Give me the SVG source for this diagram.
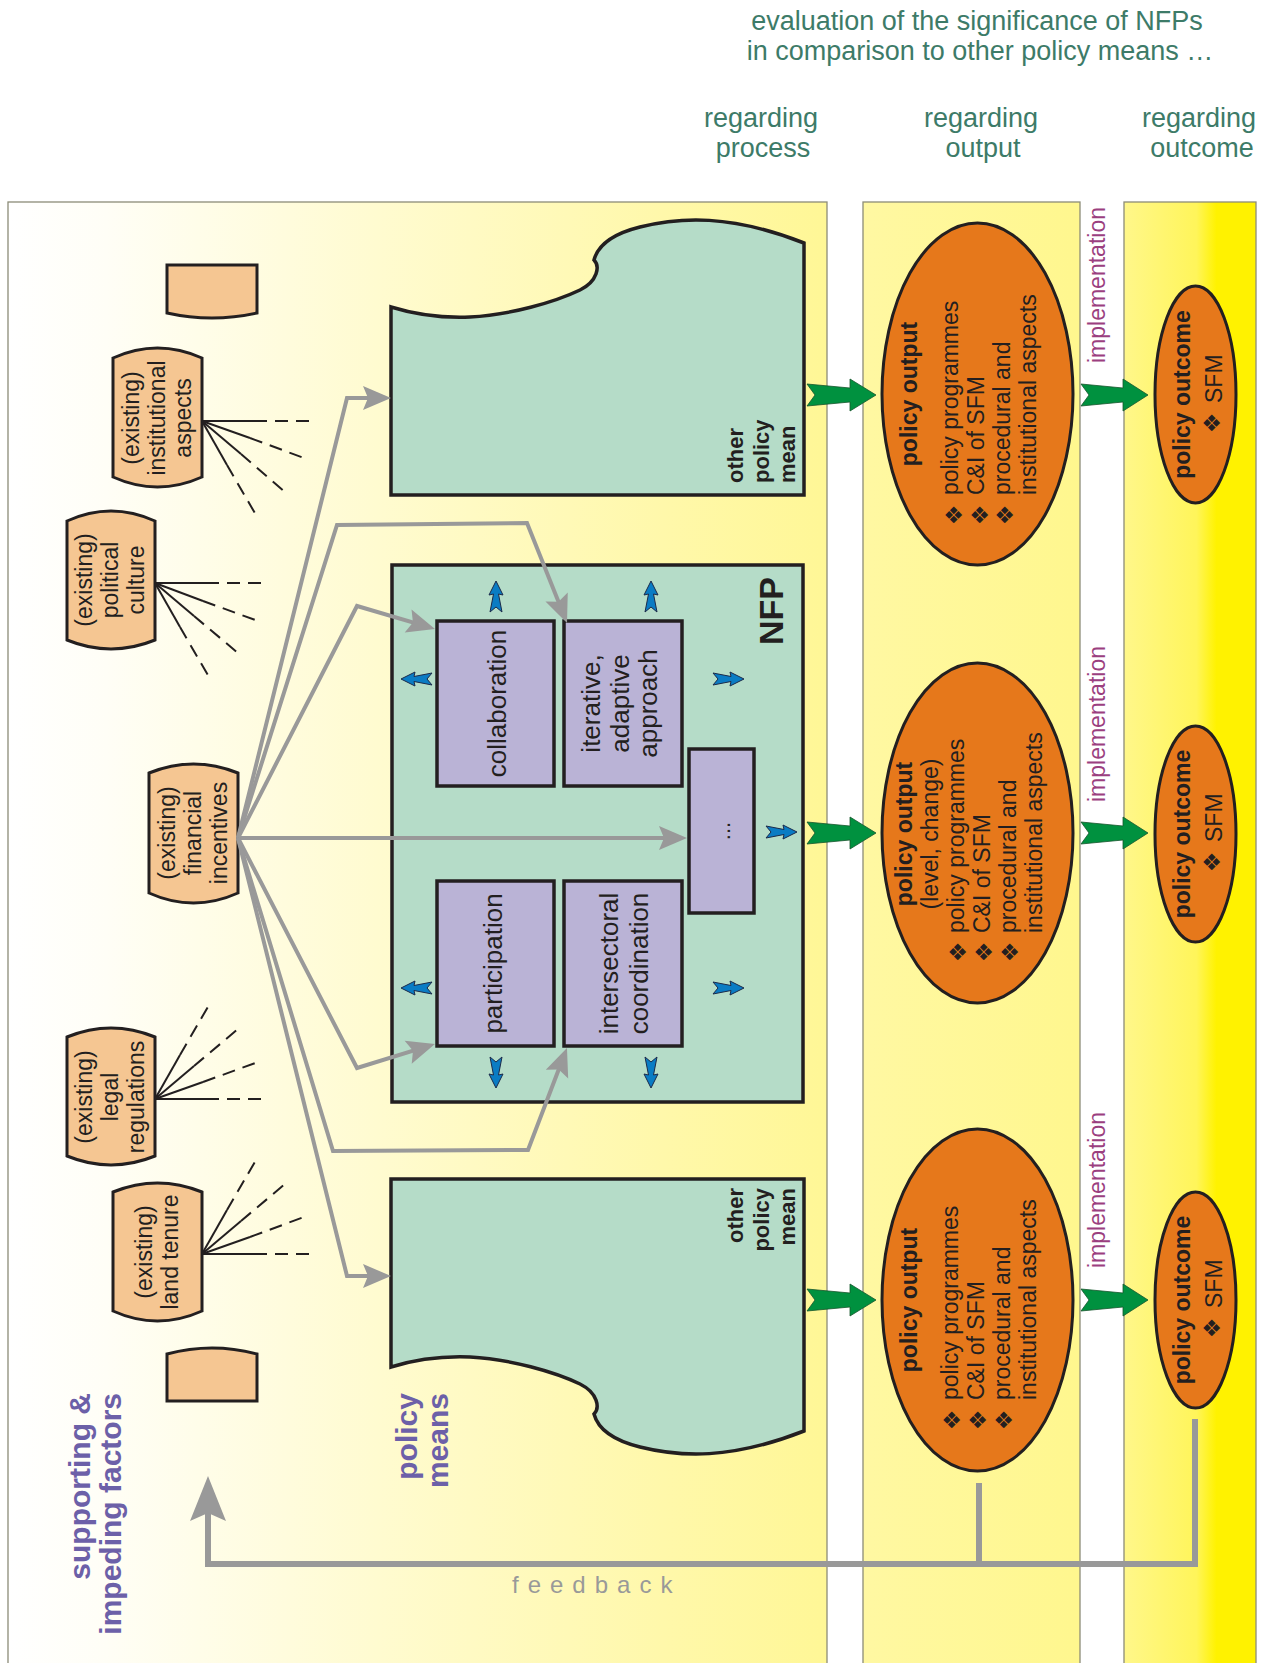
<svg xmlns="http://www.w3.org/2000/svg" xmlns:xlink="http://www.w3.org/1999/xlink" width="1269" height="1663" viewBox="0 0 1269 1663">
<defs>
<style>
text { font-family: "Liberation Sans", Arial, sans-serif; fill: #231f20; }
.hdr { font-size: 27px; fill: #3d7b68; text-anchor: middle; }
.fac { font-size: 23px; text-anchor: middle; }
.box { font-size: 26px; text-anchor: middle; }
.om { font-size: 22px; font-weight: bold; }
.eb { font-size: 23px; font-weight: bold; text-anchor: middle; }
.el { font-size: 23px; }
.bul { font-family: "DejaVu Sans", sans-serif; font-size: 23px; text-anchor: middle; }
.impl { font-size: 23px; fill: #9b3f7f; }
.big { font-size: 30px; font-weight: bold; fill: #6c60a8; text-anchor: end; }
.peach { fill: #f5c692; stroke: #231f20; stroke-width: 3; }
.teal { fill: #b5dcc8; stroke: #231f20; stroke-width: 3.5; }
.lav { fill: #bab3d6; stroke: #231f20; stroke-width: 3.5; }
.ell { fill: #e6781b; stroke: #231f20; stroke-width: 3; }
.panel { stroke: #8c8c78; stroke-width: 1.3; }
.gray { fill: none; stroke: #999999; stroke-width: 4; stroke-linejoin: miter; marker-end: url(#gh); }
.sol { stroke: #231f20; stroke-width: 2; }
.dash { stroke: #231f20; stroke-width: 2; stroke-dasharray: 13 8; }
.green { fill: #00913f; stroke: #17552c; stroke-width: 0.8; }
.blue { fill: #0a7cc4; stroke: #1b2a4a; stroke-width: 1; }
.fb { fill: none; stroke: #999999; stroke-width: 6; }
</style>
<linearGradient id="gl" x1="0" y1="0" x2="1" y2="0">
<stop offset="0" stop-color="#ffffff"/>
<stop offset="0.12" stop-color="#fffef6"/>
<stop offset="0.45" stop-color="#fffbd0"/>
<stop offset="0.8" stop-color="#fff8aa"/>
<stop offset="1" stop-color="#fff796"/>
</linearGradient>
<linearGradient id="gm" x1="0" y1="0" x2="1" y2="0">
<stop offset="0" stop-color="#fff8a2"/>
<stop offset="1" stop-color="#fff78e"/>
</linearGradient>
<linearGradient id="gr" x1="0" y1="0" x2="1" y2="0">
<stop offset="0" stop-color="#fff78a"/>
<stop offset="0.55" stop-color="#fff55a"/>
<stop offset="0.7" stop-color="#fff200"/>
<stop offset="1" stop-color="#fff200"/>
</linearGradient>
<marker id="gh" markerUnits="userSpaceOnUse" viewBox="0 -13 30 26" markerWidth="30" markerHeight="26" refX="18" refY="0" orient="auto" overflow="visible">
<path d="M0,-12 L28,0 L0,12 L5,0 Z" fill="#999999"/>
</marker>
<polygon id="garrA" points="807,-11 850,-7 850,-16 876,0 850,16 850,7 807,11 815,0"/>
<polygon id="garrB" points="1081,-11 1123,-7 1123,-16 1148,0 1123,16 1123,7 1081,11 1089,0"/>
<path id="barr" d="M0,-6 L18,-2.5 L17,-7 L31,0 L17,7 L18,2.5 L0,6 L5,0 Z"/>
</defs>

<g id="panels">
<rect class="panel" x="8" y="202" width="819" height="1470" fill="url(#gl)"/>
<rect class="panel" x="863" y="202" width="217" height="1470" fill="url(#gm)"/>
<rect class="panel" x="1124" y="202" width="132" height="1470" fill="url(#gr)"/>
</g>

<g id="header">
<text class="hdr" x="977" y="30">evaluation of the significance of NFPs</text>
<text class="hdr" x="980" y="60">in comparison to other policy means …</text>
<text class="hdr" x="761" y="127">regarding</text>
<text class="hdr" x="763" y="157">process</text>
<text class="hdr" x="981" y="127">regarding</text>
<text class="hdr" x="983" y="157">output</text>
<text class="hdr" x="1199" y="127">regarding</text>
<text class="hdr" x="1202" y="157">outcome</text>
</g>

<g id="labels">
<text class="big" transform="translate(90,1393) rotate(-90)">supporting &amp;</text>
<text class="big" transform="translate(121,1393) rotate(-90)">impeding factors</text>
<text class="big" transform="translate(417,1393) rotate(-90)">policy</text>
<text class="big" transform="translate(448,1393) rotate(-90)">means</text>
<text transform="translate(512,1593)" style="font-size:24px;fill:#999999;letter-spacing:9px">feedback</text>
</g>

<g id="factor-blank-top"><path class="peach" d="M167,265 H257 V313 Q212,323 167,313 Z"/></g>
<g id="factor-institutional">
<path class="peach" d="M113,358 Q157.5,338 202,358 V477 Q157.5,497 113,477 Z"/>
<text class="fac" transform="translate(138.5,418) rotate(-90)">(existing)</text>
<text class="fac" transform="translate(164.5,418) rotate(-90)">institutional</text>
<text class="fac" transform="translate(190.5,418) rotate(-90)">aspects</text>
</g>
<g id="factor-political">
<path class="peach" d="M67,521 Q111,501 155,521 V640 Q111,658 67,640 Z"/>
<text class="fac" transform="translate(92,580) rotate(-90)">(existing)</text>
<text class="fac" transform="translate(118,580) rotate(-90)">political</text>
<text class="fac" transform="translate(144,580) rotate(-90)">culture</text>
</g>
<g id="factor-financial">
<path class="peach" d="M149,773 Q193.5,755 238,773 V893 Q193.5,913 149,893 Z"/>
<text class="fac" transform="translate(174.5,833) rotate(-90)">(existing)</text>
<text class="fac" transform="translate(200.5,833) rotate(-90)">financial</text>
<text class="fac" transform="translate(226.5,833) rotate(-90)">incentives</text>
</g>
<g id="factor-legal">
<path class="peach" d="M67,1037 Q111,1019 155,1037 V1156 Q111,1174 67,1156 Z"/>
<text class="fac" transform="translate(92,1097) rotate(-90)">(existing)</text>
<text class="fac" transform="translate(118,1097) rotate(-90)">legal</text>
<text class="fac" transform="translate(144,1097) rotate(-90)">regulations</text>
</g>
<g id="factor-land">
<path class="peach" d="M113,1192 Q157.5,1174 202,1192 V1311 Q157.5,1331 113,1311 Z"/>
<text class="fac" transform="translate(151.5,1252) rotate(-90)">(existing)</text>
<text class="fac" transform="translate(177.5,1252) rotate(-90)">land tenure</text>
</g>
<g id="factor-blank-bottom"><path class="peach" d="M167,1354 Q212,1342 257,1354 V1401 H167 Z"/></g>

<g id="other-policy-mean-top">
<path class="teal" d="M391,307 C420,316 445,318 470,317 C510,315 555,302 580,290 C598,281 600,266 594,260 C598,245 612,234 640,227 C680,217 730,214 804,243 V495 H391 Z"/>
<text class="om" transform="translate(743,483) rotate(-90)">other</text>
<text class="om" transform="translate(769,483) rotate(-90)">policy</text>
<text class="om" transform="translate(795,483) rotate(-90)">mean</text>
</g>

<g id="nfp">
<rect class="teal" x="392" y="565" width="411" height="537"/>
<text transform="translate(783,611) rotate(-90)" style="font-size:34px;font-weight:bold;text-anchor:middle">NFP</text>
</g>
<g id="collaboration">
<rect class="lav" x="437" y="621" width="117" height="165"/>
<text class="box" transform="translate(506,703.5) rotate(-90)">collaboration</text>
</g>
<g id="iterative">
<rect class="lav" x="564" y="621" width="118" height="165"/>
<text class="box" transform="translate(600,703.5) rotate(-90)">iterative,</text>
<text class="box" transform="translate(628.5,703.5) rotate(-90)">adaptive</text>
<text class="box" transform="translate(657,703.5) rotate(-90)">approach</text>
</g>
<g id="more">
<rect class="lav" x="689" y="749" width="65" height="164"/>
<text transform="translate(730,831) rotate(-90)" style="font-size:22px;text-anchor:middle">...</text>
</g>
<g id="participation">
<rect class="lav" x="437" y="881" width="117" height="165"/>
<text class="box" transform="translate(502,963.5) rotate(-90)">participation</text>
</g>
<g id="intersectoral">
<rect class="lav" x="564" y="881" width="118" height="165"/>
<text class="box" transform="translate(618,963.5) rotate(-90)">intersectoral</text>
<text class="box" transform="translate(648,963.5) rotate(-90)">coordination</text>
</g>

<g id="other-policy-mean-bottom">
<path class="teal" d="M391,1367 C420,1358 445,1356 470,1357 C510,1359 555,1372 580,1384 C598,1393 600,1408 594,1414 C598,1429 612,1440 640,1447 C680,1457 730,1460 804,1431 V1179 H391 Z"/>
<text class="om" transform="translate(743,1188) rotate(-90)" text-anchor="end">other</text>
<text class="om" transform="translate(769,1188) rotate(-90)" text-anchor="end">policy</text>
<text class="om" transform="translate(795,1188) rotate(-90)" text-anchor="end">mean</text>
</g>

<g id="output-1">
<ellipse class="ell" cx="977.5" cy="394" rx="95.5" ry="171"/>
<text class="eb" transform="translate(917,394) rotate(-90)">policy output</text>
<text class="bul" transform="translate(962,515) rotate(-90)">❖</text>
<text class="el" transform="translate(958,495) rotate(-90)">policy programmes</text>
<text class="bul" transform="translate(988,515) rotate(-90)">❖</text>
<text class="el" transform="translate(984,495) rotate(-90)">C&amp;I of SFM</text>
<text class="bul" transform="translate(1013,515) rotate(-90)">❖</text>
<text class="el" transform="translate(1010,495) rotate(-90)">procedural and</text>
<text class="el" transform="translate(1036,495) rotate(-90)">institutional aspects</text>
</g>
<g id="output-2">
<ellipse class="ell" cx="977.5" cy="833" rx="95.5" ry="170"/>
<text class="eb" transform="translate(912,834) rotate(-90)">policy output</text>
<text class="el" transform="translate(938,834) rotate(-90)" text-anchor="middle">(level, change)</text>
<text class="bul" transform="translate(966,952) rotate(-90)">❖</text>
<text class="el" transform="translate(964,933) rotate(-90)">policy programmes</text>
<text class="bul" transform="translate(992,952) rotate(-90)">❖</text>
<text class="el" transform="translate(990,933) rotate(-90)">C&amp;I of SFM</text>
<text class="bul" transform="translate(1018,952) rotate(-90)">❖</text>
<text class="el" transform="translate(1016,933) rotate(-90)">procedural and</text>
<text class="el" transform="translate(1042,933) rotate(-90)">institutional aspects</text>
</g>
<g id="output-3">
<ellipse class="ell" cx="977.5" cy="1300" rx="95.5" ry="171"/>
<text class="eb" transform="translate(917,1300) rotate(-90)">policy output</text>
<text class="bul" transform="translate(960,1420) rotate(-90)">❖</text>
<text class="el" transform="translate(958,1400) rotate(-90)">policy programmes</text>
<text class="bul" transform="translate(986,1420) rotate(-90)">❖</text>
<text class="el" transform="translate(984,1400) rotate(-90)">C&amp;I of SFM</text>
<text class="bul" transform="translate(1012,1420) rotate(-90)">❖</text>
<text class="el" transform="translate(1010,1400) rotate(-90)">procedural and</text>
<text class="el" transform="translate(1036,1400) rotate(-90)">institutional aspects</text>
</g>

<g id="implementation-labels">
<text class="impl" transform="translate(1105,363) rotate(-90)">implementation</text>
<text class="impl" transform="translate(1105,802) rotate(-90)">implementation</text>
<text class="impl" transform="translate(1105,1268) rotate(-90)">implementation</text>
</g>

<g id="outcome-1">
<ellipse class="ell" cx="1195.5" cy="394.5" rx="40.5" ry="108.5"/>
<text class="eb" transform="translate(1190,394.5) rotate(-90)">policy outcome</text>
<text class="bul" transform="translate(1220,423) rotate(-90)">❖</text>
<text class="el" transform="translate(1222,403) rotate(-90)">SFM</text>
</g>
<g id="outcome-2">
<ellipse class="ell" cx="1195.5" cy="834" rx="40.5" ry="108"/>
<text class="eb" transform="translate(1190,834) rotate(-90)">policy outcome</text>
<text class="bul" transform="translate(1220,862) rotate(-90)">❖</text>
<text class="el" transform="translate(1222,842) rotate(-90)">SFM</text>
</g>
<g id="outcome-3">
<ellipse class="ell" cx="1195.5" cy="1300" rx="40.5" ry="108"/>
<text class="eb" transform="translate(1190,1300) rotate(-90)">policy outcome</text>
<text class="bul" transform="translate(1220,1328) rotate(-90)">❖</text>
<text class="el" transform="translate(1222,1308) rotate(-90)">SFM</text>
</g>

<g id="connectors">
<g id="factor-lines">
<line class="sol" x1="202" y1="421" x2="254" y2="421"/><line class="dash" x1="254" y1="421" x2="312" y2="421"/>
<line class="sol" x1="202" y1="421" x2="250" y2="438"/><line class="dash" x1="250" y1="438" x2="304" y2="458"/>
<line class="sol" x1="202" y1="421" x2="241" y2="454"/><line class="dash" x1="241" y1="454" x2="285" y2="492"/>
<line class="sol" x1="202" y1="421" x2="227" y2="465"/><line class="dash" x1="227" y1="465" x2="256" y2="515"/>
<line class="sol" x1="155" y1="583" x2="206" y2="583"/><line class="dash" x1="206" y1="583" x2="263" y2="583"/>
<line class="sol" x1="155" y1="583" x2="203" y2="601"/><line class="dash" x1="203" y1="601" x2="258" y2="621"/>
<line class="sol" x1="155" y1="583" x2="194" y2="616"/><line class="dash" x1="194" y1="616" x2="238" y2="653"/>
<line class="sol" x1="155" y1="583" x2="180" y2="627"/><line class="dash" x1="180" y1="627" x2="209" y2="677"/>
<line class="sol" x1="155" y1="1099" x2="206" y2="1099"/><line class="dash" x1="206" y1="1099" x2="263" y2="1099"/>
<line class="sol" x1="155" y1="1099" x2="203" y2="1082"/><line class="dash" x1="203" y1="1082" x2="258" y2="1062"/>
<line class="sol" x1="155" y1="1099" x2="194" y2="1066"/><line class="dash" x1="194" y1="1066" x2="238" y2="1029"/>
<line class="sol" x1="155" y1="1099" x2="180" y2="1055"/><line class="dash" x1="180" y1="1055" x2="209" y2="1005"/>
<line class="sol" x1="202" y1="1254" x2="254" y2="1254"/><line class="dash" x1="254" y1="1254" x2="312" y2="1254"/>
<line class="sol" x1="202" y1="1254" x2="250" y2="1237"/><line class="dash" x1="250" y1="1237" x2="304" y2="1217"/>
<line class="sol" x1="202" y1="1254" x2="241" y2="1221"/><line class="dash" x1="241" y1="1221" x2="285" y2="1184"/>
<line class="sol" x1="202" y1="1254" x2="227" y2="1210"/><line class="dash" x1="227" y1="1210" x2="256" y2="1160"/>
</g>
<g id="gray-arrows">
<path class="gray" d="M238,838 L347,398 L381,398"/>
<path class="gray" d="M238,838 L337,525 L527,523 L563.3,613.7"/>
<path class="gray" d="M238,838 L357,606 L425.4,626.2"/>
<path class="gray" d="M238,838 L677,838"/>
<path class="gray" d="M238,838 L357,1068 L425.4,1046.9"/>
<path class="gray" d="M238,838 L333,1151 L528,1150 L563.4,1057.3"/>
<path class="gray" d="M238,838 L347,1276 L381,1276"/>
</g>
<g id="blue-arrows">
<use xlink:href="#barr" href="#barr" class="blue" transform="translate(496,612) rotate(-90)"/>
<use xlink:href="#barr" href="#barr" class="blue" transform="translate(651,612) rotate(-90)"/>
<use xlink:href="#barr" href="#barr" class="blue" transform="translate(432,679) rotate(180)"/>
<use xlink:href="#barr" href="#barr" class="blue" transform="translate(713,679)"/>
<use xlink:href="#barr" href="#barr" class="blue" transform="translate(766,832)"/>
<use xlink:href="#barr" href="#barr" class="blue" transform="translate(432,988) rotate(180)"/>
<use xlink:href="#barr" href="#barr" class="blue" transform="translate(713,988)"/>
<use xlink:href="#barr" href="#barr" class="blue" transform="translate(496,1057) rotate(90)"/>
<use xlink:href="#barr" href="#barr" class="blue" transform="translate(651,1057) rotate(90)"/>
</g>
<g id="green-arrows">
<use xlink:href="#garrA" href="#garrA" class="green" transform="translate(0,395)"/>
<use xlink:href="#garrB" href="#garrB" class="green" transform="translate(0,395)"/>
<use xlink:href="#garrA" href="#garrA" class="green" transform="translate(0,833)"/>
<use xlink:href="#garrB" href="#garrB" class="green" transform="translate(0,833)"/>
<use xlink:href="#garrA" href="#garrA" class="green" transform="translate(0,1300)"/>
<use xlink:href="#garrB" href="#garrB" class="green" transform="translate(0,1300)"/>
</g>
<g id="feedback">
<path class="fb" d="M979,1483 V1564 M1195,1419 V1564 M1198,1564 H208 V1512"/>
<polygon points="208,1476 226,1521 208,1513 190,1521" fill="#999999"/>
</g>
</g>
</svg>
